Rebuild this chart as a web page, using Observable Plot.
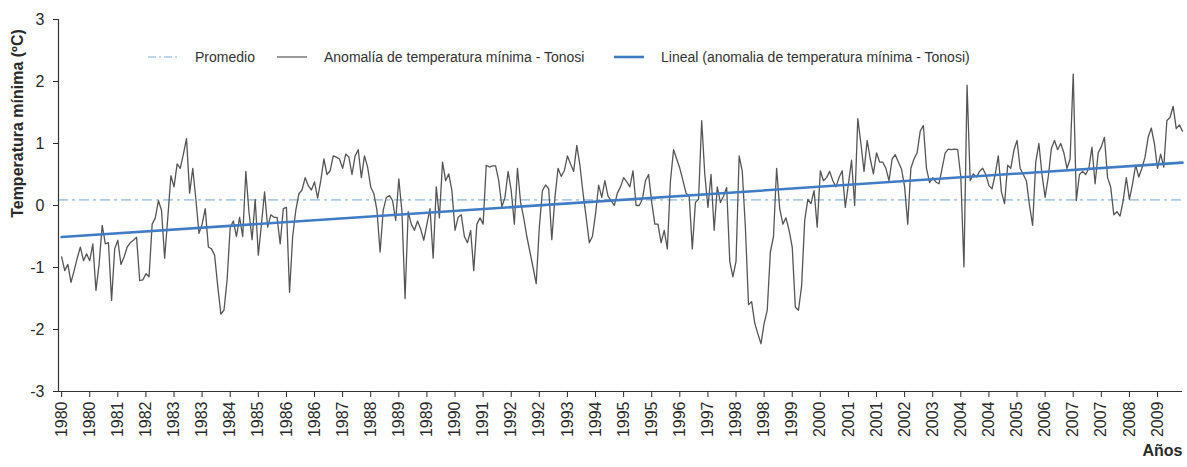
<!DOCTYPE html>
<html>
<head>
<meta charset="utf-8">
<script src="https://cdn.jsdelivr.net/npm/d3@7"></script>
<script src="https://cdn.jsdelivr.net/npm/@observablehq/plot@0.6"></script>
<style>
  body { margin: 0; background: #fff; font-family: "Liberation Sans", Arial, sans-serif; }
  #wrap { position: relative; width: 1187px; height: 467px; }
  #legend { position: absolute; left: 0; top: 0; width: 1187px; height: 80px; pointer-events: none; font-size: 14px; color: #333; }
  .item { position: absolute; top: 48px; height: 18px; display: flex; align-items: center; white-space: nowrap; }
  .item svg { margin-right: 17px; }
</style>
</head>
<body>
<div id="wrap"></div>
<script>
// Monthly minimum-temperature anomaly, Tonosí (ºC), Jan 1980 – Dec 2009
const anom1980s = [
  -0.83,-1.05,-0.95,-1.24,-1.05,-0.85,-0.67,-0.89,-0.78,-0.89,-0.62,-1.37,
  -0.95,-0.32,-0.62,-0.60,-1.53,-0.70,-0.56,-0.95,-0.83,-0.67,-0.60,-0.56,
  -0.51,-1.21,-1.20,-1.10,-1.15,-0.30,-0.20,0.08,-0.08,-0.85,-0.20,0.48,
  0.30,0.67,0.60,0.83,1.08,0.20,0.60,0.10,-0.45,-0.30,-0.05,-0.67,
  -0.70,-0.80,-1.30,-1.75,-1.69,-1.20,-0.35,-0.25,-0.50,-0.19,-0.50,0.55,
  -0.10,-0.55,0.10,-0.80,-0.30,0.22,-0.35,-0.15,-0.19,-0.19,-0.62,-0.05,
  -0.03,-1.40,-0.50,-0.08,0.19,0.25,0.45,0.32,0.25,0.38,0.12,0.40,
  0.75,0.50,0.56,0.80,0.78,0.75,0.60,0.83,0.78,0.50,0.80,0.90,
  0.45,0.80,0.62,0.30,0.19,-0.08,-0.75,-0.08,0.13,0.16,0.08,-0.24,
  0.43,-0.10,-1.50,-0.10,-0.30,-0.40,-0.25,-0.38,-0.56,-0.30,-0.05,-0.85
];
const anom1990s = [
  0.30,-0.20,0.70,0.40,0.51,0.24,-0.40,-0.19,-0.15,-0.50,-0.60,-0.40,
  -1.05,-0.30,-0.20,-0.30,0.65,0.62,0.64,0.64,0.40,-0.02,0.13,0.55,
  0.24,-0.30,0.60,0.05,-0.20,-0.50,-0.75,-1.00,-1.26,-0.35,0.24,0.33,
  0.27,-0.55,0.13,0.60,0.47,0.56,0.80,0.67,0.55,0.97,0.65,0.20,
  -0.19,-0.60,-0.50,-0.14,0.33,0.13,0.40,0.15,0.08,0.00,0.20,0.30,
  0.45,0.38,0.30,0.56,0.00,0.00,0.10,0.40,0.50,0.05,-0.30,-0.30,
  -0.60,-0.40,-0.70,0.40,0.90,0.75,0.60,0.40,0.20,0.15,-0.70,0.05,
  0.10,1.37,0.50,-0.03,0.50,-0.40,0.30,0.05,0.15,0.29,-0.90,-1.15,
  -0.90,0.80,0.55,-0.35,-1.60,-1.55,-1.90,-2.07,-2.23,-1.90,-1.69,-0.75,
  -0.50,0.60,-0.05,-0.30,-0.20,-0.40,-0.67,-1.64,-1.69,-1.30,-0.24,0.10
];
const anom2000s = [
  0.03,0.24,-0.35,0.56,0.40,0.45,0.55,0.40,0.30,0.45,0.56,-0.03,
  0.35,0.73,0.00,1.40,1.00,0.55,1.05,0.75,0.51,0.85,0.70,0.70,
  0.60,0.40,0.75,0.82,0.70,0.59,0.30,-0.30,0.60,0.75,0.85,1.20,
  1.29,0.60,0.37,0.45,0.38,0.35,0.60,0.85,0.91,0.90,0.91,0.90,
  0.46,-0.99,1.94,0.40,0.51,0.46,0.55,0.60,0.50,0.32,0.27,0.50,
  0.80,0.22,0.03,0.65,0.60,0.89,1.05,0.60,0.50,0.40,0.00,-0.32,
  0.70,1.00,0.50,0.13,0.46,0.92,1.05,0.90,1.00,0.85,0.60,0.75,
  2.12,0.08,0.50,0.55,0.50,0.60,0.94,0.35,0.85,0.95,1.10,0.45,
  0.30,-0.15,-0.10,-0.17,0.08,0.45,0.10,0.35,0.65,0.46,0.60,0.78,
  1.10,1.25,1.00,0.60,0.83,0.62,1.37,1.42,1.60,1.24,1.30,1.20
];
// Category-axis labels (one every 9 months)
const tickLabels = [
  "1980","1980","1981","1982","1983","1983","1984","1985","1986","1986",
  "1987","1988","1989","1989","1990","1991","1992","1992","1993","1994",
  "1995","1995","1996","1997","1998","1998","1999","2000","2001","2001",
  "2002","2003","2004","2004","2005","2006","2007","2007","2008","2009"
];
const yTicks = [3, 2, 1, 0, -1, -2, -3];
const legendLabels = [
  "Promedio",
  "Anomalía de temperatura mínima - Tonosi",
  "Lineal (anomalia de temperatura mínima - Tonosi)"
];
const yTitle = "Temperatura mínima (ºC)";
const xTitle = "Años";

const values = [...anom1980s, ...anom1990s, ...anom2000s];
const data = values.map((v, i) => ({i, v}));
const promedio = d3.mean(values);
const tickStep = 9;
const tickIdx = tickLabels.map((_, k) => k * tickStep);

const colGray = "#555555", colBlue = "#3f7cc4", colLight = "#a9cbe8";

const chart = Plot.plot({
  width: 1187,
  height: 467,
  marginLeft: 58,
  marginRight: 5,
  marginTop: 19,
  marginBottom: 76,
  style: {fontFamily: "'Liberation Sans', Arial, sans-serif", fontSize: "16px", color: "#2a2a2a", background: "transparent"},
  x: {domain: [-1, values.length - 1], axis: null},
  y: {domain: [-3, 3], axis: null},
  marks: [
    Plot.ruleY([promedio], {stroke: colLight, strokeWidth: 1.6, strokeDasharray: "10,4,3,4"}),
    Plot.line(data, {x: "i", y: "v", stroke: colGray, strokeWidth: 1.3}),
    Plot.linearRegressionY(data, {x: "i", y: "v", ci: 0, stroke: colBlue, strokeWidth: 2.6}),
    Plot.ruleX([-1], {stroke: "#333", strokeWidth: 1.2}),
    Plot.ruleY([-3], {stroke: "#333", strokeWidth: 1.2}),
    Plot.axisY({ticks: yTicks, tickSize: 5, tickPadding: 9, label: null,
      tickFormat: d => d < 0 ? "-" + (-d) : String(d)}),
    Plot.axisX({ticks: tickIdx, tickSize: 6, tickPadding: 4, tickRotate: -90, label: null,
      tickFormat: d => tickLabels[d / tickStep]}),
    Plot.text([yTitle], {text: d => d, frameAnchor: "left", dx: -41, dy: -82, rotate: -90,
      textAnchor: "middle", lineAnchor: "middle", fontWeight: "bold", fontSize: 16}),
    Plot.text([xTitle], {text: d => d, frameAnchor: "bottom-right", dy: 64, textAnchor: "end",
      fontWeight: "bold", fontSize: 16})
  ]
});

const wrap = document.getElementById("wrap");
wrap.appendChild(chart);

// Legend overlaid inside the plot area
const legend = document.createElement("div");
legend.id = "legend";
const swatches = [
  {stroke: colLight, dash: "8,3,2,3", w: 1.6, left: 148},
  {stroke: colGray, dash: null, w: 1.2, left: 277},
  {stroke: colBlue, dash: null, w: 2.6, left: 614}
];
legendLabels.forEach((lab, k) => {
  const s = swatches[k];
  const item = document.createElement("div");
  item.className = "item";
  item.style.left = s.left + "px";
  item.innerHTML = `<svg width="30" height="10"><line x1="0" x2="30" y1="5" y2="5" stroke="${s.stroke}" stroke-width="${s.w}" ${s.dash ? `stroke-dasharray="${s.dash}"` : ""}/></svg><span>${lab}</span>`;
  legend.appendChild(item);
});
wrap.appendChild(legend);
</script>
</body>
</html>
